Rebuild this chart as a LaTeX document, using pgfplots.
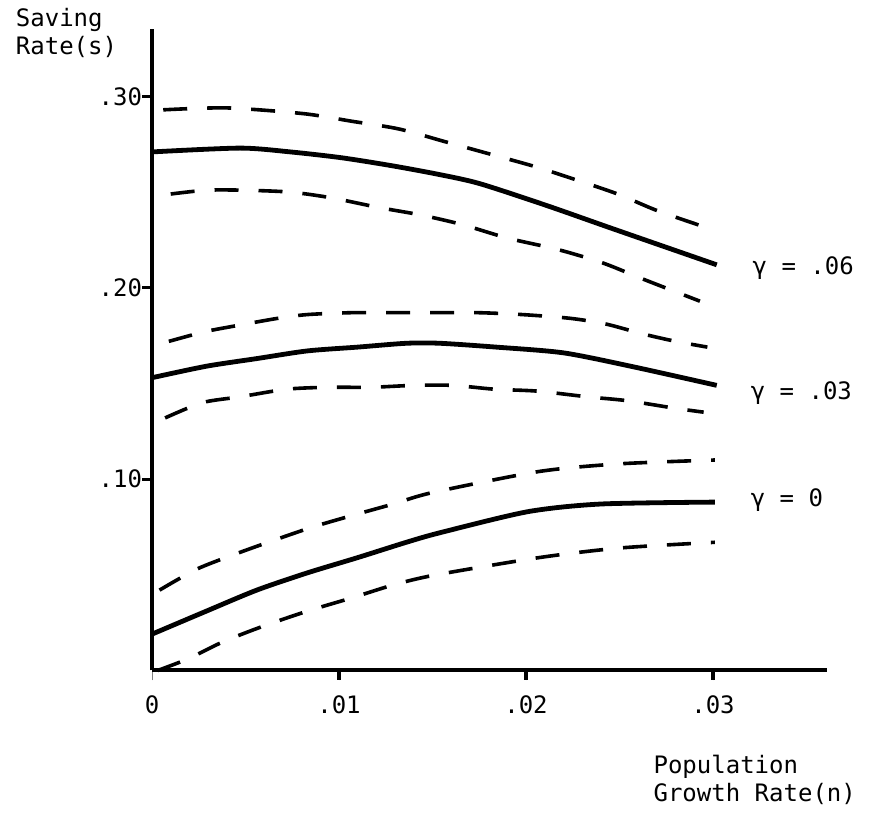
\documentclass[border=0pt]{standalone}
\usepackage{fontspec}
\setmainfont{DejaVu Sans Mono}
\usepackage{pgfplots}
\pgfplotsset{compat=1.18}

\begin{document}
\begin{tikzpicture}
% values are read in their own units; the axis works in hundredths
\begin{axis}[
    scale only axis,
    width=337.5pt, height=320.5pt,
    xmin=0, xmax=3.61,
    ymin=0, ymax=33.5,
    x filter/.expression={x*100},
    y filter/.expression={y*100},
    axis lines=left,
    axis line style={line width=2pt, -},
    clip=false,
    xtick={0,1,2,3},
    xticklabels={0,.01,.02,.03},
    ytick={10,20,30},
    yticklabels={.10,.20,.30},
    tick align=outside,
    major tick length=5pt,
    ticklabel style={font=\fontsize{12}{14}\selectfont},
    xticklabel style={yshift=-4pt},
    yticklabel style={xshift=3.5pt},
    solid curve/.style={black, smooth, tension=0.45, line width=2.4pt},
    band/.style={black, smooth, tension=0.45, line width=1.8pt, dash pattern=on 12pt off 10pt},
]
% gamma = .06
\addplot[band] coordinates {(0.0006,0.293) (0.004,0.294) (0.0081,0.291) (0.0107,0.287) (0.0132,0.283) (0.0158,0.276) (0.0184,0.269) (0.0206,0.263) (0.0228,0.256) (0.0249,0.249) (0.0271,0.240) (0.0301,0.230)};
\addplot[solid curve] coordinates {(0,0.271) (0.0047,0.273) (0.0074,0.271) (0.0101,0.268) (0.0127,0.264) (0.0152,0.2595) (0.0175,0.2545) (0.0211,0.243) (0.0246,0.231) (0.0302,0.212)};
\addplot[band] coordinates {(0.001,0.249) (0.0029,0.251) (0.0049,0.251) (0.0074,0.250) (0.0096,0.247) (0.0121,0.242) (0.0144,0.238) (0.0166,0.233) (0.019,0.226) (0.0217,0.220) (0.0241,0.213) (0.0264,0.204) (0.0293,0.193)};
% gamma = .03
\addplot[band] coordinates {(0.0009,0.172) (0.0028,0.177) (0.0044,0.180) (0.0067,0.184) (0.0083,0.186) (0.0107,0.187) (0.0128,0.187) (0.0149,0.187) (0.0174,0.187) (0.0198,0.186) (0.0224,0.184) (0.0243,0.181) (0.0262,0.176) (0.028,0.172) (0.0297,0.169)};
\addplot[solid curve] coordinates {(0,0.153) (0.0029,0.159) (0.0056,0.163) (0.0083,0.167) (0.011,0.169) (0.0136,0.171) (0.0154,0.171) (0.0184,0.169) (0.022,0.166) (0.0256,0.159) (0.0302,0.149)};
\addplot[band] coordinates {(0.0007,0.132) (0.0027,0.140) (0.0047,0.143) (0.0072,0.147) (0.0094,0.148) (0.0117,0.148) (0.014,0.149) (0.0161,0.149) (0.0183,0.147) (0.0206,0.146) (0.0233,0.143) (0.0254,0.141) (0.028,0.137) (0.0295,0.135)};
% gamma = 0
\addplot[band] coordinates {(0.0004,0.042) (0.0024,0.053) (0.0045,0.061) (0.0065,0.068) (0.0086,0.075) (0.0107,0.081) (0.0129,0.087) (0.015,0.093) (0.0207,0.104) (0.025,0.108) (0.0301,0.110)};
\addplot[solid curve] coordinates {(0,0.019) (0.0029,0.031) (0.0056,0.042) (0.0083,0.051) (0.011,0.059) (0.0136,0.067) (0.0154,0.072) (0.0201,0.083) (0.024,0.087) (0.0301,0.088)};
\addplot[band] coordinates {(0.0003,0.000) (0.0019,0.006) (0.0038,0.015) (0.0059,0.023) (0.0083,0.031) (0.0107,0.038) (0.013,0.045) (0.0152,0.050) (0.0207,0.059) (0.025,0.064) (0.0301,0.067)};

% tick marks (pgfplots' own did not show here)
\pgfplotsinvokeforeach{1,2,3}{\draw[line width=1.6pt] (axis cs:#1,0) -- ++(0,-5pt);}
\pgfplotsinvokeforeach{10,20,30}{\draw[line width=1.6pt] (axis cs:0,#1) -- ++(-5pt,0);}

\begin{scope}[every node/.style={font=\fontsize{12}{14}\selectfont, inner sep=0pt}]
\node[anchor=west] at (axis cs:3.21,21.04) {γ = .06};
\node[anchor=west] at (axis cs:3.20,14.52) {γ = .03};
\node[anchor=west] at (axis cs:3.20,8.93) {γ = 0};
\node[anchor=north west, align=left] at (axis cs:2.68,-4.39) {Population\\Growth Rate(n)};
\node[anchor=north west, align=left] at (axis cs:-0.73,34.62) {Saving\\Rate(s)};
\end{scope}
% page extent, same as the reference
\path (axis cs:-0.813,-7.78) rectangle (axis cs:3.845,35.04);
\end{axis}
\end{tikzpicture}
\end{document}
